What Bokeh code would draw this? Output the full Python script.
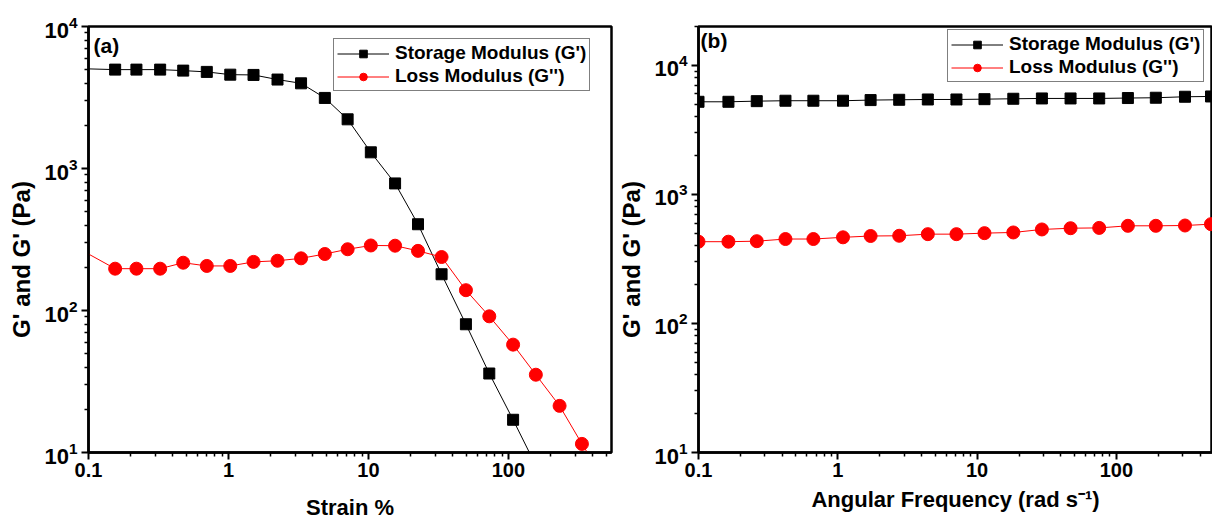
from bokeh.plotting import figure
from bokeh.layouts import row
from bokeh.models import FixedTicker, CustomJSTickFormatter, Legend, LegendItem, Label, LogTickFormatter
from bokeh.embed import file_html
from bokeh.resources import INLINE

# ---------------- data ----------------
strain_storage = [0.1, 0.155, 0.22, 0.325, 0.475, 0.70, 1.03, 1.51, 2.24, 3.30, 4.88,
                  7.1, 10.4, 15.5, 22.6, 33.3, 49.7, 73, 108, 158]
storage_a = [5030, 4970, 4970, 4970, 4890, 4790, 4580, 4560, 4230, 3980, 3140,
             2220, 1300, 785, 405, 180, 80, 36, 17, 8]
strain_loss = [0.1, 0.155, 0.22, 0.325, 0.475, 0.70, 1.03, 1.51, 2.24, 3.30, 4.88,
               7.1, 10.4, 15.5, 22.6, 33.3, 49.7, 73, 108, 157, 232, 335, 490]
loss_a = [250, 197, 197, 197, 217, 206, 206, 220, 224, 233, 250,
          270, 287, 286, 263, 238, 139, 91, 57.5, 35.3, 21.3, 11.5, 6.3]

freq = [0.1, 0.164, 0.262, 0.421, 0.668, 1.09, 1.72, 2.76, 4.43, 7.11, 11.3,
        18.2, 29.2, 46.9, 75.3, 121, 192, 311, 478]
storage_b = [5220, 5220, 5280, 5320, 5320, 5320, 5380, 5410, 5440, 5440, 5470,
             5510, 5540, 5540, 5540, 5580, 5610, 5710, 5740]
loss_b = [430, 430, 434, 451, 451, 465, 476, 478, 492, 492, 501,
          507, 535, 547, 550, 571, 571, 574, 588]

x_major = [0.1, 1, 10, 100]
y_major = [10, 100, 1000, 10000]
legend_labels = ["Storage Modulus (G')", "Loss Modulus (G'')"]
y_label = "G' and G' (Pa)" + "\u00a0" * 6
x_label_a = "Strain %"
x_label_b = "Angular Frequency (rad s\u207b\u00b9)"

FONT = "Liberation Sans"
BLACK = "#000000"
RED = "#ff0000"


def minors(lo, hi):
    out = []
    e = lo
    while e < hi:
        for m in range(2, 10):
            out.append(m * 10.0 ** e)
        e += 1
    return out


def style(p, xlab, xstandoff):
    p.xgrid.visible = False
    p.ygrid.visible = False
    p.outline_line_color = BLACK
    p.outline_line_width = 2.5
    p.background_fill_color = "white"
    p.border_fill_color = "white"
    p.xaxis.ticker = FixedTicker(ticks=x_major, minor_ticks=minors(-1, 3))
    p.yaxis.ticker = FixedTicker(ticks=y_major, minor_ticks=minors(1, 5))
    p.xaxis.formatter = CustomJSTickFormatter(code="return tick < 1 ? tick.toFixed(1) : tick.toFixed(0);")
    p.yaxis.formatter = LogTickFormatter()
    for ax in (p.xaxis[0], p.yaxis[0]):
        ax.axis_line_width = 2.5
        ax.axis_line_color = BLACK
        ax.major_tick_line_width = 2
        ax.minor_tick_line_width = 1.5
        ax.major_tick_out = 7
        ax.major_tick_in = 0
        ax.minor_tick_out = 4
        ax.minor_tick_in = 0
        ax.major_label_text_font = FONT
        ax.major_label_text_font_style = "bold"
        ax.major_label_text_color = BLACK
        ax.axis_label_text_font = FONT
        ax.axis_label_text_font_style = "bold"
        ax.axis_label_text_color = BLACK
    p.xaxis.axis_label_text_font_size = "22px"
    p.yaxis.axis_label_text_font_size = "24px"
    p.xaxis.major_label_text_font_size = "20px"
    p.yaxis.major_label_text_font_size = "22px"
    p.xaxis.major_label_standoff = 3
    p.yaxis.major_label_standoff = 4
    p.xaxis.axis_label_standoff = xstandoff
    p.yaxis.axis_label_standoff = 6
    p.xaxis.axis_label = xlab
    p.yaxis.axis_label = y_label


def add_legend(p, r_items, loc):
    items = [LegendItem(label=legend_labels[0], renderers=r_items[0]),
             LegendItem(label=legend_labels[1], renderers=r_items[1])]
    lg = Legend(items=items, location=loc, orientation="vertical")
    lg.label_text_font = FONT
    lg.label_text_font_style = "bold"
    lg.label_text_font_size = "19px"
    lg.label_text_color = BLACK
    lg.border_line_color = BLACK
    lg.border_line_width = 1.5
    lg.background_fill_alpha = 1
    lg.padding = 3
    lg.spacing = 1
    lg.margin = 0
    lg.glyph_width = 52
    lg.glyph_height = 19
    lg.label_height = 19
    lg.label_standoff = 6
    p.add_layout(lg)


# ---------------- panel (a) ----------------
p1 = figure(width=615, height=522, x_axis_type="log", y_axis_type="log",
            x_range=(0.1, 545), y_range=(10, 1e4),
            output_backend="svg", toolbar_location=None,
            min_border_left=88, min_border_right=4, min_border_top=26, min_border_bottom=70)
style(p1, x_label_a, 15)

l1 = p1.line(strain_storage, storage_a, line_color=BLACK, line_width=1)
s1 = p1.scatter(strain_storage[1:], storage_a[1:], marker="square", size=11,
                fill_color=BLACK, line_color=BLACK)
l2 = p1.line(strain_loss, loss_a, line_color=RED, line_width=1)
s2 = p1.scatter(strain_loss[1:], loss_a[1:], marker="circle", size=13,
                fill_color=RED, line_color=RED)
add_legend(p1, [[l1, s1], [l2, s2]], (245, 361))
p1.add_layout(Label(x=0.1085, y=7400, text="(a)", text_font=FONT, text_font_style="bold",
                    text_font_size="21px", text_baseline="middle", text_color=BLACK))

# ---------------- panel (b) ----------------
p2 = figure(width=597, height=522, x_axis_type="log", y_axis_type="log",
            x_range=(0.1, 490), y_range=(10, 2e4),
            output_backend="svg", toolbar_location=None,
            min_border_left=82, min_border_right=0, min_border_top=26, min_border_bottom=70)
style(p2, x_label_b, 7)

l3 = p2.line(freq, storage_b, line_color=BLACK, line_width=1)
s3 = p2.scatter(freq, storage_b, marker="square", size=11, fill_color=BLACK, line_color=BLACK)
l4 = p2.line(freq, loss_b, line_color=RED, line_width=1)
s4 = p2.scatter(freq, loss_b, marker="circle", size=13, fill_color=RED, line_color=RED)
add_legend(p2, [[l3, s3], [l4, s4]], (249, 370))
p2.add_layout(Label(x=0.1035, y=15500, text="(b)", text_font=FONT, text_font_style="bold",
                    text_font_size="21px", text_baseline="middle", text_color=BLACK))

layout = row(p1, p2, spacing=0)
open("out.html", "w").write(file_html(layout, INLINE))
